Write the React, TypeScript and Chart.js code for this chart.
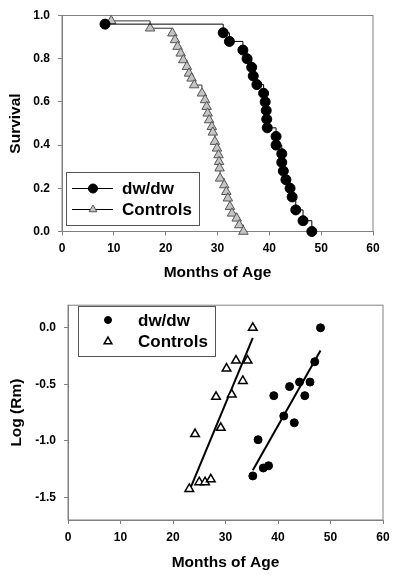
import React, { useEffect, useRef } from "react";
import { Chart, registerables } from "chart.js";

Chart.register(...registerables);

// ---------- Data: survival (top panel) ----------
const dwMonths = [8.3, 31.1, 32.3, 34.9, 35.7, 36.6, 36.9, 37.6, 38.9, 39.2, 39.4, 39.5, 39.6, 41.3, 41.3, 42.4, 42.4, 42.7, 43.2, 44.0, 44.4, 45.1, 46.5, 48.2];
const dwSurvival = [0.96, 0.92, 0.88, 0.84, 0.8, 0.76, 0.72, 0.68, 0.64, 0.6, 0.56, 0.52, 0.48, 0.44, 0.4, 0.36, 0.32, 0.28, 0.24, 0.2, 0.16, 0.1, 0.05, 0.0];

const ctrlMonths = [9.5, 17.0, 21.3, 21.8, 22.3, 22.9, 23.4, 24.1, 24.5, 25.0, 25.5, 27.0, 27.6, 27.9, 28.1, 28.4, 28.9, 29.1, 29.5, 29.9, 30.2, 30.3, 30.4, 30.5, 31.3, 31.7, 32.0, 32.4, 32.8, 33.7, 34.2, 35.0];
const ctrlSurvival = [0.975, 0.941, 0.918, 0.887, 0.856, 0.825, 0.794, 0.763, 0.732, 0.709, 0.678, 0.64, 0.609, 0.578, 0.547, 0.516, 0.485, 0.459, 0.416, 0.385, 0.354, 0.323, 0.293, 0.246, 0.215, 0.184, 0.154, 0.115, 0.084, 0.061, 0.03, 0.0];

// ---------- Data: log(Rm) (bottom panel) ----------
const dwAge = [48.1, 47.0, 44.1, 46.1, 42.2, 39.2, 45.1, 41.1, 43.1, 36.2, 35.2, 37.2, 38.2];
const dwLogRm = [0.0, -0.3, -0.48, -0.48, -0.52, -0.6, -0.6, -0.78, -0.84, -0.99, -1.31, -1.24, -1.22];

const ctrlAge = [35.2, 32.0, 34.2, 30.2, 33.3, 28.2, 31.2, 29.1, 24.2, 23.1, 25.0, 26.1, 27.2];
const ctrlLogRm = [0.0, -0.29, -0.29, -0.36, -0.47, -0.61, -0.59, -0.885, -0.94, -1.425, -1.365, -1.365, -1.34];

const dwFitAge = [35.2, 48.1];
const dwFitLogRm = [-1.26, -0.2];
const ctrlFitAge = [23.4, 35.2];
const ctrlFitLogRm = [-1.41, -0.09];

// ---------- Labels / ticks ----------
const legendLabels = ["dw/dw", "Controls"];
const monthTicks = [0, 10, 20, 30, 40, 50, 60];
const survivalTicks = [0, 0.2, 0.4, 0.6, 0.8, 1.0];
const logTicks = [-1.5, -1.0, -0.5, 0.0];
const xTitle = "Months of Age";
const survivalTitle = "Survival";
const logTitle = "Log (Rm)";

const FONT = "'Liberation Sans', Arial, Helvetica, sans-serif";
const AXIS_COLOR = "#808080";

const toPoints = (xs: number[], ys: number[]) => xs.map((x, i) => ({ x, y: ys[i] }));

function drawMarker(ctx: CanvasRenderingContext2D, style: string, x: number, y: number, r: number, fill: string, stroke: string, lw: number) {
  ctx.beginPath();
  if (style === "triangle") {
    const a = (2 * Math.PI) / 3;
    ctx.moveTo(x, y - r);
    ctx.lineTo(x + Math.sin(a) * r, y - Math.cos(a) * r);
    ctx.lineTo(x + Math.sin(2 * a) * r, y - Math.cos(2 * a) * r);
    ctx.closePath();
  } else {
    ctx.arc(x, y, r, 0, Math.PI * 2);
  }
  ctx.fillStyle = fill;
  ctx.fill();
  ctx.lineWidth = lw;
  ctx.strokeStyle = stroke;
  ctx.stroke();
}

const framePlugin = {
  id: "frame",
  beforeDatasetsDraw(chart: any) {
    const { ctx, chartArea } = chart;
    const { left, top, right, bottom } = chartArea;
    ctx.save();
    ctx.strokeStyle = AXIS_COLOR;
    ctx.lineWidth = 1;
    ctx.strokeRect(left, top, right - left, bottom - top);
    ctx.restore();
  },
};

const boxLegendPlugin = {
  id: "boxLegend",
  afterDraw(chart: any, _args: any, opts: any) {
    const { ctx } = chart;
    const { box, rows, showLine } = opts;
    ctx.save();
    ctx.fillStyle = "#ffffff";
    ctx.fillRect(box.left, box.top, box.right - box.left, box.bottom - box.top);
    ctx.strokeStyle = "#555555";
    ctx.lineWidth = 1;
    ctx.strokeRect(box.left, box.top, box.right - box.left, box.bottom - box.top);
    rows.forEach((row: any) => {
      const ds = chart.data.datasets[row.datasetIndex];
      if (showLine) {
        ctx.beginPath();
        ctx.moveTo(row.lineStart, row.y);
        ctx.lineTo(row.lineEnd, row.y);
        ctx.strokeStyle = "#000";
        ctx.lineWidth = 1;
        ctx.stroke();
      }
      drawMarker(ctx, ds.pointStyle, row.markerX, row.y, row.radius, ds.pointBackgroundColor, ds.pointBorderColor, ds.pointBorderWidth);
      ctx.fillStyle = "#000";
      ctx.font = `bold 17px ${FONT}`;
      ctx.textBaseline = "middle";
      ctx.textAlign = "left";
      ctx.fillText(ds.label, row.textX, row.y + 1);
    });
    ctx.restore();
  },
};

function axisX(titlePadBottom: number, height: number) {
  return {
    type: "linear" as const,
    min: 0,
    max: 60,
    afterBuildTicks: (scale: any) => {
      scale.ticks = monthTicks.map((v) => ({ value: v }));
    },
    afterFit: (scale: any) => {
      scale.height = height;
    },
    grid: { display: true, drawOnChartArea: false, drawTicks: true, tickLength: 4, color: AXIS_COLOR },
    border: { display: true, color: AXIS_COLOR, width: 1 },
    ticks: {
      color: "#000",
      padding: 6,
      maxRotation: 0,
      font: { family: FONT, size: 12, weight: "bold" as const },
      callback: (v: any) => String(v),
    },
    title: {
      display: true,
      text: xTitle,
      color: "#000",
      font: { family: FONT, size: 15.5, weight: "bold" as const },
      padding: { top: 0, bottom: titlePadBottom },
    },
  };
}

function axisY(min: number, max: number, ticks: number[], title: string, width: number, titlePadTop: number) {
  return {
    type: "linear" as const,
    min,
    max,
    afterBuildTicks: (scale: any) => {
      scale.ticks = ticks.map((v) => ({ value: v }));
    },
    afterFit: (scale: any) => {
      scale.width = width;
    },
    grid: { display: true, drawOnChartArea: false, drawTicks: true, tickLength: 4, color: AXIS_COLOR },
    border: { display: true, color: AXIS_COLOR, width: 1 },
    ticks: {
      color: "#000",
      padding: 8,
      font: { family: FONT, size: 12, weight: "bold" as const },
      callback: (v: any) => Number(v).toFixed(1),
    },
    title: {
      display: true,
      text: title,
      color: "#000",
      font: { family: FONT, size: 15.5, weight: "bold" as const },
      padding: { top: titlePadTop, bottom: 0 },
    },
  };
}

function SurvivalChart() {
  const ref = useRef<HTMLCanvasElement | null>(null);
  useEffect(() => {
    if (!ref.current) return;
    const chart = new Chart(ref.current, {
      type: "scatter",
      data: {
        datasets: [
          {
            label: legendLabels[0],
            data: toPoints(dwMonths, dwSurvival),
            showLine: true,
            stepped: true,
            borderColor: "#000",
            borderWidth: 1,
            pointStyle: "circle",
            pointRadius: 5,
            pointBackgroundColor: "#000",
            pointBorderColor: "#000",
            pointBorderWidth: 1,
            clip: false,
          } as any,
          {
            label: legendLabels[1],
            data: toPoints(ctrlMonths, ctrlSurvival),
            showLine: true,
            stepped: true,
            borderColor: "#333",
            borderWidth: 1,
            pointStyle: "triangle",
            pointRadius: 5.5,
            pointBackgroundColor: "#c4c4c4",
            pointBorderColor: "#555",
            pointBorderWidth: 1,
            clip: false,
          } as any,
        ],
      },
      options: {
        responsive: false,
        animation: false,
        devicePixelRatio: 1,
        layout: { padding: { top: 15.5, right: 27, left: 0, bottom: 0 } },
        scales: {
          x: axisX(7.7, 58.5),
          y: axisY(0, 1, survivalTicks, survivalTitle, 62, 6.7),
        },
        plugins: {
          legend: { display: false },
          tooltip: { enabled: false },
          boxLegend: {
            showLine: true,
            box: { left: 66.5, top: 172.5, right: 199.5, bottom: 225.5 },
            rows: [
              { datasetIndex: 0, y: 188.5, lineStart: 72, lineEnd: 113, markerX: 93, radius: 4.5, textX: 122 },
              { datasetIndex: 1, y: 209.5, lineStart: 72, lineEnd: 113, markerX: 93, radius: 4.5, textX: 122 },
            ],
          },
        } as any,
      },
      plugins: [framePlugin, boxLegendPlugin],
    });
    return () => chart.destroy();
  }, []);
  return <canvas ref={ref} width={400} height={290} style={{ position: "absolute", left: 0, top: 0, width: 400, height: 290 }} />;
}

function LogRmChart() {
  const ref = useRef<HTMLCanvasElement | null>(null);
  useEffect(() => {
    if (!ref.current) return;
    const chart = new Chart(ref.current, {
      type: "scatter",
      data: {
        datasets: [
          {
            label: legendLabels[0],
            data: toPoints(dwAge, dwLogRm),
            pointStyle: "circle",
            pointRadius: 4,
            pointBackgroundColor: "#000",
            pointBorderColor: "#000",
            pointBorderWidth: 1,
            clip: false,
          } as any,
          {
            label: legendLabels[1],
            data: toPoints(ctrlAge, ctrlLogRm),
            pointStyle: "triangle",
            pointRadius: 5,
            pointBackgroundColor: "#fff",
            pointBorderColor: "#000",
            pointBorderWidth: 1.5,
            clip: false,
          } as any,
          {
            label: "dw/dw fit",
            data: toPoints(dwFitAge, dwFitLogRm),
            showLine: true,
            borderColor: "#000",
            borderWidth: 2,
            pointRadius: 0,
          } as any,
          {
            label: "Controls fit",
            data: toPoints(ctrlFitAge, ctrlFitLogRm),
            showLine: true,
            borderColor: "#000",
            borderWidth: 2,
            pointRadius: 0,
          } as any,
        ],
      },
      options: {
        responsive: false,
        animation: false,
        devicePixelRatio: 1,
        layout: { padding: { top: 11.7, right: 17, left: 0, bottom: 0 } },
        scales: {
          x: axisX(4.7, 57),
          y: axisY(-1.7, 0.2, logTicks, logTitle, 68, 7.7),
        },
        plugins: {
          legend: { display: false },
          tooltip: { enabled: false },
          boxLegend: {
            showLine: false,
            box: { left: 78.5, top: 16.5, right: 215.5, bottom: 66.5 },
            rows: [
              { datasetIndex: 0, y: 30, markerX: 108, radius: 3.5, textX: 138 },
              { datasetIndex: 1, y: 51.5, markerX: 108, radius: 4.5, textX: 138 },
            ],
          },
        } as any,
      },
      plugins: [framePlugin, boxLegendPlugin],
    });
    return () => chart.destroy();
  }, []);
  return <canvas ref={ref} width={400} height={287} style={{ position: "absolute", left: 0, top: 290, width: 400, height: 287 }} />;
}

export default function App() {
  return (
    <div style={{ position: "absolute", left: 0, top: 0, width: 400, height: 577, background: "#fff" }}>
      <SurvivalChart />
      <LogRmChart />
    </div>
  );
}
